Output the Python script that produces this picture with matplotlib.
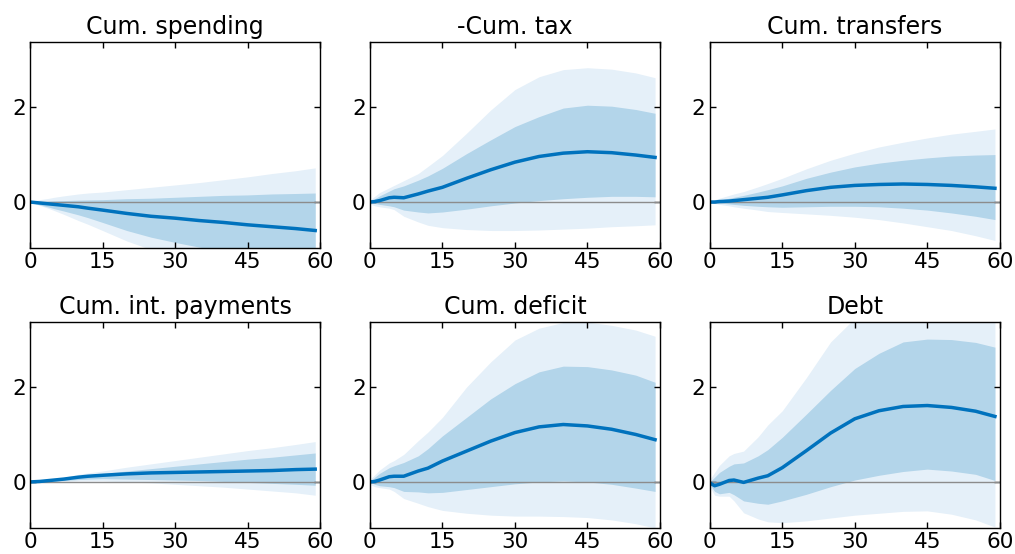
import matplotlib
matplotlib.use("Agg")
from matplotlib import pyplot as plt

# horizontes (periodos) em que as respostas foram lidas
horizontes = [0, 1, 2, 4, 5, 7, 10, 12, 15, 20, 25, 30, 35, 40, 45, 50, 55, 59]

titulos = ["Cum. spending", "-Cum. tax", "Cum. transfers",
           "Cum. int. payments", "Cum. deficit", "Debt"]

# resposta mediana de cada variavel
gasto_med = [0, -0.01, -0.02, -0.04, -0.05, -0.07, -0.1, -0.13, -0.17, -0.24, -0.30, -0.34, -0.39, -0.43, -0.48, -0.52, -0.56, -0.60]
imposto_med = [0, 0.01, 0.03, 0.09, 0.1, 0.09, 0.17, 0.23, 0.31, 0.5, 0.68, 0.84, 0.96, 1.03, 1.06, 1.04, 0.99, 0.94]
transf_med = [0, 0.0, 0.01, 0.02, 0.03, 0.05, 0.08, 0.1, 0.15, 0.24, 0.31, 0.35, 0.37, 0.38, 0.37, 0.35, 0.32, 0.29]
juros_med = [0, 0.005, 0.01, 0.03, 0.04, 0.06, 0.1, 0.12, 0.14, 0.17, 0.19, 0.2, 0.21, 0.22, 0.23, 0.24, 0.26, 0.27]
deficit_med = [0, 0.01, 0.04, 0.11, 0.12, 0.12, 0.23, 0.29, 0.44, 0.65, 0.86, 1.04, 1.16, 1.21, 1.18, 1.11, 1.0, 0.89]
divida_med = [-0.02, -0.08, -0.05, 0.03, 0.04, -0.01, 0.08, 0.13, 0.3, 0.66, 1.03, 1.33, 1.5, 1.59, 1.61, 1.57, 1.49, 1.38]

# banda interna (limite superior / inferior)
gasto_in_sup = [0, 0.005, 0.01, 0.02, 0.025, 0.03, 0.04, 0.045, 0.05, 0.07, 0.08, 0.1, 0.12, 0.14, 0.15, 0.17, 0.18, 0.19]
gasto_in_inf = [0, -0.03, -0.06, -0.11, -0.14, -0.19, -0.27, -0.33, -0.43, -0.6, -0.74, -0.85, -0.95, -1.03, -1.1, -1.17, -1.23, -1.28]
imposto_in_sup = [0, 0.07, 0.13, 0.23, 0.28, 0.34, 0.46, 0.55, 0.71, 1.02, 1.31, 1.59, 1.8, 1.98, 2.04, 2.02, 1.95, 1.87]
imposto_in_inf = [0, -0.03, -0.05, -0.08, -0.1, -0.17, -0.21, -0.23, -0.21, -0.15, -0.08, -0.02, 0.03, 0.07, 0.1, 0.12, 0.12, 0.11]
transf_in_sup = [0, 0.02, 0.04, 0.08, 0.1, 0.14, 0.21, 0.26, 0.34, 0.5, 0.63, 0.74, 0.82, 0.88, 0.93, 0.97, 0.99, 1.0]
transf_in_inf = [0, -0.01, -0.02, -0.04, -0.05, -0.07, -0.09, -0.1, -0.11, -0.1, -0.09, -0.09, -0.1, -0.13, -0.17, -0.23, -0.3, -0.37]
juros_in_sup = [0, 0.01, 0.02, 0.04, 0.05, 0.08, 0.13, 0.15, 0.18, 0.23, 0.28, 0.33, 0.38, 0.43, 0.48, 0.52, 0.57, 0.61]
juros_in_inf = [0, 0.0, 0.0, 0.01, 0.02, 0.03, 0.05, 0.06, 0.07, 0.06, 0.05, 0.04, 0.03, 0.01, -0.01, -0.03, -0.05, -0.07]
deficit_in_sup = [0, 0.1, 0.18, 0.3, 0.34, 0.41, 0.55, 0.7, 0.97, 1.36, 1.75, 2.07, 2.32, 2.44, 2.43, 2.36, 2.25, 2.1]
deficit_in_inf = [0, -0.05, -0.08, -0.1, -0.12, -0.2, -0.21, -0.23, -0.22, -0.16, -0.1, -0.04, 0.0, 0.02, 0.0, -0.05, -0.13, -0.2]
divida_in_sup = [0, 0.1, 0.2, 0.33, 0.38, 0.4, 0.55, 0.68, 0.94, 1.43, 1.93, 2.39, 2.71, 2.95, 3.01, 3.0, 2.94, 2.84]
divida_in_inf = [-0.05, -0.2, -0.25, -0.22, -0.27, -0.4, -0.45, -0.47, -0.4, -0.26, -0.1, 0.04, 0.14, 0.22, 0.27, 0.23, 0.16, 0.03]

# banda externa (limite superior / inferior)
gasto_ex_sup = [0.01, 0.03, 0.05, 0.08, 0.1, 0.13, 0.17, 0.19, 0.21, 0.26, 0.31, 0.36, 0.41, 0.47, 0.53, 0.6, 0.66, 0.72]
gasto_ex_inf = [-0.01, -0.04, -0.07, -0.14, -0.18, -0.26, -0.39, -0.47, -0.6, -0.82, -1.0, -1.15, -1.28, -1.4, -1.5, -1.6, -1.7, -1.78]
imposto_ex_sup = [0.04, 0.12, 0.2, 0.3, 0.35, 0.45, 0.6, 0.75, 0.98, 1.45, 1.94, 2.37, 2.64, 2.79, 2.83, 2.8, 2.72, 2.62]
imposto_ex_inf = [-0.04, -0.08, -0.1, -0.13, -0.16, -0.3, -0.42, -0.49, -0.54, -0.58, -0.6, -0.6, -0.59, -0.57, -0.55, -0.52, -0.5, -0.48]
transf_ex_sup = [0.02, 0.05, 0.08, 0.14, 0.17, 0.22, 0.32, 0.39, 0.5, 0.7, 0.88, 1.03, 1.16, 1.26, 1.35, 1.43, 1.49, 1.54]
transf_ex_inf = [-0.02, -0.03, -0.05, -0.08, -0.1, -0.13, -0.17, -0.2, -0.22, -0.25, -0.28, -0.32, -0.37, -0.44, -0.52, -0.6, -0.71, -0.81]
juros_ex_sup = [0.01, 0.02, 0.03, 0.05, 0.07, 0.1, 0.16, 0.19, 0.23, 0.31, 0.38, 0.45, 0.52, 0.59, 0.66, 0.72, 0.79, 0.85]
juros_ex_inf = [-0.03, -0.02, -0.01, 0.0, 0.0, 0.01, 0.02, 0.02, 0.02, 0.0, -0.02, -0.05, -0.08, -0.11, -0.15, -0.19, -0.23, -0.28]
deficit_ex_sup = [0.05, 0.15, 0.25, 0.4, 0.45, 0.58, 0.87, 1.05, 1.36, 2.0, 2.53, 2.99, 3.24, 3.36, 3.37, 3.3, 3.2, 3.07]
deficit_ex_inf = [-0.05, -0.1, -0.12, -0.15, -0.2, -0.35, -0.45, -0.52, -0.6, -0.66, -0.7, -0.72, -0.72, -0.73, -0.75, -0.8, -0.88, -0.97]
divida_ex_sup = [0.05, 0.2, 0.35, 0.55, 0.6, 0.65, 0.95, 1.2, 1.5, 2.2, 2.95, 3.45, 3.8, 4.0, 4.1, 4.1, 4.0, 3.9]
divida_ex_inf = [-0.1, -0.28, -0.3, -0.3, -0.4, -0.65, -0.78, -0.84, -0.86, -0.82, -0.76, -0.7, -0.66, -0.62, -0.61, -0.68, -0.8, -0.95]

medianas = [gasto_med, imposto_med, transf_med, juros_med, deficit_med, divida_med]
internas = [(gasto_in_inf, gasto_in_sup), (imposto_in_inf, imposto_in_sup),
            (transf_in_inf, transf_in_sup), (juros_in_inf, juros_in_sup),
            (deficit_in_inf, deficit_in_sup), (divida_in_inf, divida_in_sup)]
externas = [(gasto_ex_inf, gasto_ex_sup), (imposto_ex_inf, imposto_ex_sup),
            (transf_ex_inf, transf_ex_sup), (juros_ex_inf, juros_ex_sup),
            (deficit_ex_inf, deficit_ex_sup), (divida_ex_inf, divida_ex_sup)]

cor_linha = "#0072BD"
cor_int = "#B3D5EA"
cor_ext = "#E5F0F9"

fig, eixos = plt.subplots(2, 3, figsize=(10.15, 5.54), dpi=100)
fig.subplots_adjust(left=0.0296, right=0.985, top=0.924, bottom=0.047,
                    wspace=0.172, hspace=0.359)

for i, ax in enumerate(eixos.flat):
    ax.fill_between(horizontes, externas[i][0], externas[i][1],
                    color=cor_ext, lw=0)
    ax.fill_between(horizontes, internas[i][0], internas[i][1],
                    color=cor_int, lw=0)
    ax.axhline(0, color="0.55", lw=1)
    ax.plot(horizontes, medianas[i], color=cor_linha, lw=2.5)

    ax.set_title(titulos[i], fontsize=17)
    ax.set_xlim(0, 60)
    ax.set_ylim(-0.97, 3.37)
    ax.set_xticks([0, 15, 30, 45, 60])
    ax.set_yticks([0, 2])
    ax.tick_params(direction="in", top=True, right=True, labelsize=15.5,
                   length=4, width=1, pad=3)
    for lado in ax.spines.values():
        lado.set_linewidth(1)

fig.savefig("out.png", dpi=100)
